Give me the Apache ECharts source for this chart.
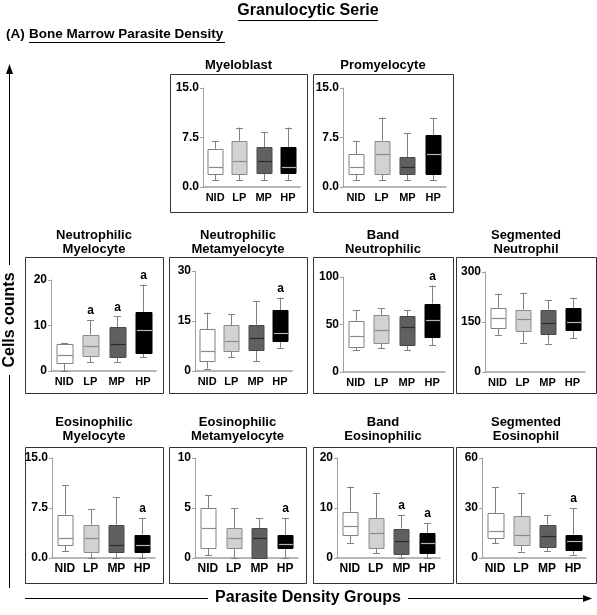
<!DOCTYPE html>
<html><head><meta charset="utf-8">
<script src="https://cdn.jsdelivr.net/npm/echarts@6/dist/echarts.min.js"></script>
<style>html,body{margin:0;padding:0;background:#fff}#c{width:597px;height:615px}</style>
</head><body><div id="c"></div>
<script>
// ---- data: [min, Q1, median, Q3, max] per group ----
const categories = ['NID', 'LP', 'MP', 'HP'];
const myeloblast        = [[1,2,3,5.8,7],[1,2,4,7,9],[1,2,4,6,8.3],[1,2,3,6,9]];
const promyelocyte      = [[1,2,3,5,7],[1,2,5,7,10.5],[1,2,3,4.5,8.2],[1,2,5,7.9,10.4]];
const neutroMyelocyte   = [[0,1.9,3.6,6,6.2],[1.9,3.3,5.5,8,11.2],[2,3,6,9.6,12],[3,4,9,13,19]];
const neutroMetamyel    = [[0.7,3,6,12.5,17.5],[4.2,5.9,9,13.7,17],[3,6.5,10,13.9,21],[7,9,11.5,18.2,22]];
const bandNeutrophilic  = [[23,27,38,54,65],[25,31,44,60,67],[23,29,47,59,65],[28,37,55,72,91]];
const segNeutrophil     = [[112,132,162,193,235],[88,124,160,187,238],[85,115,148,187,215],[101,128,150,193,223]];
const eosinoMyelocyte   = [[1,2,3,6.5,10.9],[0,1,3,5,7.3],[0,1,2,5,9.1],[0,1,2,3.5,6]];
const eosinoMetamyel    = [[0.3,1,3,5,6.3],[0,1,2,3,5],[0,0,2,3,4],[0,1,1.4,2.3,4]];
const bandEosinophilic  = [[3,4.7,6.5,9.3,14.3],[1,2,5,8,13],[0,1,3.4,5.9,8.6],[0,1,3,5,7]];
const segEosinophil     = [[9,12,16,27,42.6],[3.8,7.6,14,25,39],[4,6.8,13,20,25.6],[2,4.8,10,14,30]];
// significance marks ("a") per group
const sigMyeloblast = [0,0,0,0], sigPromyelocyte = [0,0,0,0];
const sigNeutroMyelocyte = [0,1,1,1], sigNeutroMetamyel = [0,0,0,1], sigBandNeutro = [0,0,0,1], sigSegNeutro = [0,0,0,0];
const sigEosinoMyelocyte = [0,0,0,1], sigEosinoMetamyel = [0,0,0,1], sigBandEosino = [0,0,1,1], sigSegEosino = [0,0,0,1];
const titles = ['Myeloblast','Promyelocyte','Neutrophilic\nMyelocyte','Neutrophilic\nMetamyelocyte','Band\nNeutrophilic','Segmented\nNeutrophil','Eosinophilic\nMyelocyte','Eosinophilic\nMetamyelocyte','Band\nEosinophilic','Segmented\nEosinophil'];
const yMax = [15,15,20,30,100,300,15,10,20,60];
const panelData = [myeloblast,promyelocyte,neutroMyelocyte,neutroMetamyel,bandNeutrophilic,segNeutrophil,eosinoMyelocyte,eosinoMetamyel,bandEosinophilic,segEosinophil];
const panelSig = [sigMyeloblast,sigPromyelocyte,sigNeutroMyelocyte,sigNeutroMetamyel,sigBandNeutro,sigSegNeutro,sigEosinoMyelocyte,sigEosinoMetamyel,sigBandEosino,sigSegEosino];

// ---- layout (pixels) ----
const layout = [
  {frame:[170,74,137,138], grid:[203,88,97,99],  ty:65,  fs:11},
  {frame:[313,74,140,138], grid:[343,88,103,99], ty:65,  fs:11},
  {frame:[25,257,138,136], grid:[51,280,105,91], ty:242, fs:11},
  {frame:[169,257,138,136],grid:[195,271,97,100],ty:242, fs:11},
  {frame:[313,257,140,136],grid:[343,277,102,95],ty:242, fs:11},
  {frame:[456,257,140,136],grid:[485,272,100,100],ty:242,fs:11},
  {frame:[25,447,138,136], grid:[52,458,103,100],ty:429, fs:12},
  {frame:[169,447,137,136],grid:[195,458,103,100],ty:429, fs:12},
  {frame:[313,447,140,136],grid:[337,458,103,100],ty:429, fs:12},
  {frame:[456,447,140,136],grid:[482,458,104,100],ty:429, fs:12}
];
const fills   = ['#ffffff','#d2d2d2','#606060','#000000'];
const borders = ['#808080','#8a8a8a','#4a4a4a','#000000'];
const medians = ['#8a8a8a','#8a8a8a','#2a2a2a','#b4b4b4'];
const whisk = '#808080';
const FONT = '"Liberation Sans", Arial, sans-serif';

const chart = echarts.init(document.getElementById('c'), null, {renderer:'canvas'});
const grids = [], xAxes = [], yAxes = [], series = [], graphics = [];

function renderBox(params, api) {
  const x = api.value(0);
  const lo = api.coord([x, api.value(1)]);
  const q1 = api.coord([x, api.value(2)]);
  const md = api.coord([x, api.value(3)]);
  const q3 = api.coord([x, api.value(4)]);
  const hi = api.coord([x, api.value(5)]);
  const sig = api.value(6);
  const cx = Math.round(lo[0]) + 0.5;
  const bw = Math.round(api.size([1,0])[0] * 0.6);
  const cw = 7;
  const i = x;
  const ch = [
    {type:'line', shape:{x1:cx,y1:q1[1],x2:cx,y2:lo[1]}, style:{stroke:whisk,lineWidth:1}},
    {type:'line', shape:{x1:cx,y1:q3[1],x2:cx,y2:hi[1]}, style:{stroke:whisk,lineWidth:1}},
    {type:'line', shape:{x1:cx-cw/2,y1:Math.round(lo[1])+0.5,x2:cx+cw/2,y2:Math.round(lo[1])+0.5}, style:{stroke:whisk,lineWidth:1}},
    {type:'line', shape:{x1:cx-cw/2,y1:Math.round(hi[1])+0.5,x2:cx+cw/2,y2:Math.round(hi[1])+0.5}, style:{stroke:whisk,lineWidth:1}},
    {type:'rect', shape:{x:Math.round(cx-bw/2), y:Math.round(q3[1])+0.5, width:bw, height:Math.max(1,Math.round(q1[1]-q3[1]))}, style:{fill:fills[i], stroke:borders[i], lineWidth:1}},
    {type:'line', shape:{x1:Math.round(cx-bw/2)+1,y1:Math.round(md[1])+0.5,x2:Math.round(cx-bw/2)+bw,y2:Math.round(md[1])+0.5}, style:{stroke:medians[i],lineWidth:1.2}}
  ];
  if (sig) ch.push({type:'text', x:cx, y:hi[1]-3, style:{text:'a', fill:'#000', font:'bold 12px '+FONT, align:'center', verticalAlign:'bottom'}});
  return {type:'group', children:ch};
}

panelData.forEach((d, k) => {
  const L = layout[k];
  grids.push({left:L.grid[0], top:L.grid[1], width:L.grid[2], height:L.grid[3], containLabel:false});
  xAxes.push({type:'category', gridIndex:k, data:categories, boundaryGap:true,
    axisLine:{show:true, lineStyle:{color:'#a0a0a0', width:1.5}}, axisTick:{show:false},
    axisLabel:{color:'#000', fontWeight:'bold', fontSize:L.fs, fontFamily:FONT, margin:5, interval:0}});
  const m = yMax[k];
  yAxes.push({type:'value', gridIndex:k, min:0, max:m, interval:m/2, splitLine:{show:false},
    axisLine:{show:true, lineStyle:{color:'#a0a0a0', width:1}}, axisTick:{show:true, length:3, lineStyle:{color:'#a0a0a0'}},
    axisLabel:{color:'#000', fontWeight:'bold', fontSize:12, fontFamily:FONT, margin:4,
      formatter: v => (m === 15 ? v.toFixed(1) : String(v))}});
  series.push({type:'custom', xAxisIndex:k, yAxisIndex:k, clip:false, renderItem:renderBox,
    encode:{x:0, y:[1,2,3,4,5]},
    data: d.map((b, j) => [j, b[0], b[1], b[2], b[3], b[4], panelSig[k][j]])});
  graphics.push({type:'rect', shape:{x:L.frame[0]+0.5, y:L.frame[1]+0.5, width:L.frame[2], height:L.frame[3]}, style:{fill:'none', stroke:'#333', lineWidth:1}, z:0});
  graphics.push({type:'text', x:L.frame[0]+L.frame[2]/2, y:L.ty, style:{text:titles[k], font:'bold 13px '+FONT, fill:'#000', align:'center', verticalAlign:'middle', lineHeight:14}});
});

// headings
graphics.push({type:'text', x:308, y:11, style:{text:'Granulocytic Serie', font:'bold 16px '+FONT, fill:'#000', align:'center', verticalAlign:'middle'}});
graphics.push({type:'line', shape:{x1:238, y1:20.5, x2:378, y2:20.5}, style:{stroke:'#000', lineWidth:1}});
graphics.push({type:'text', x:6, y:34, style:{text:'(A)', font:'bold 13.5px '+FONT, fill:'#000', align:'left', verticalAlign:'middle'}});
graphics.push({type:'text', x:29, y:34, style:{text:'Bone Marrow Parasite Density', font:'bold 13.5px '+FONT, fill:'#000', align:'left', verticalAlign:'middle'}});
graphics.push({type:'line', shape:{x1:29, y1:42.5, x2:225, y2:42.5}, style:{stroke:'#000', lineWidth:1}});
// vertical arrow + label
graphics.push({type:'line', shape:{x1:9.5, y1:72, x2:9.5, y2:265}, style:{stroke:'#000', lineWidth:1}});
graphics.push({type:'line', shape:{x1:9.5, y1:375, x2:9.5, y2:588}, style:{stroke:'#000', lineWidth:1}});
graphics.push({type:'polygon', shape:{points:[[9.5,64],[6,74],[13,74]]}, style:{fill:'#000'}});
graphics.push({type:'text', x:10, y:320, rotation:Math.PI/2, style:{text:'Cells counts', font:'bold 16px '+FONT, fill:'#000', align:'center', verticalAlign:'middle'}});
// horizontal arrow + label
graphics.push({type:'line', shape:{x1:25, y1:598.5, x2:208, y2:598.5}, style:{stroke:'#000', lineWidth:1}});
graphics.push({type:'line', shape:{x1:408, y1:598.5, x2:585, y2:598.5}, style:{stroke:'#000', lineWidth:1}});
graphics.push({type:'polygon', shape:{points:[[592,598.5],[583,595],[583,602]]}, style:{fill:'#000'}});
graphics.push({type:'text', x:308, y:598, style:{text:'Parasite Density Groups', font:'bold 16px '+FONT, fill:'#000', align:'center', verticalAlign:'middle'}});

chart.setOption({
  animation:false,
  backgroundColor:'#fff',
  grid:grids, xAxis:xAxes, yAxis:yAxes, series:series,
  graphic:{elements:graphics}
});
</script></body></html>
